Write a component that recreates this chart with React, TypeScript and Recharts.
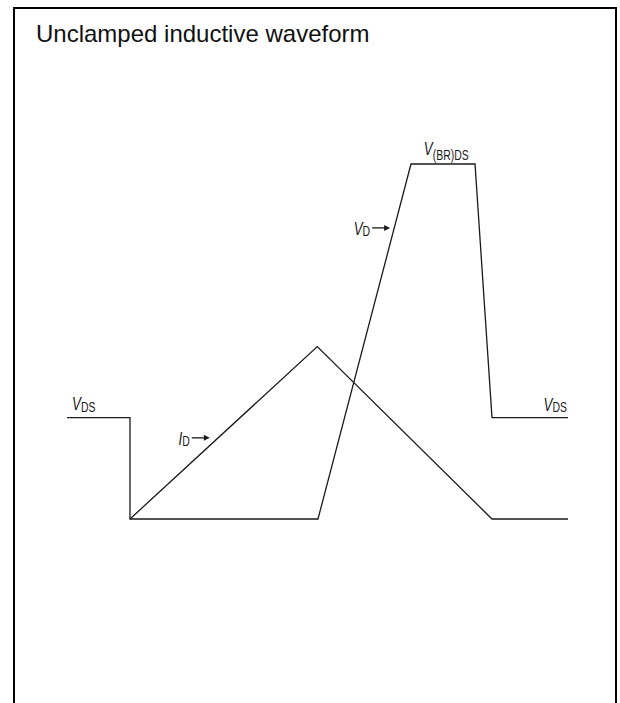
import React from "react";
import { LineChart, Line, XAxis, YAxis, ReferenceDot } from "recharts";

// time in arbitrary units (0..100), amplitude normalised so that V_DS = 1
const vdTime = [0, 12.57, 12.57, 50.1, 68.66, 81.44, 84.83, 100];
const vdValue = [1, 1, 0, 0, 3.5, 3.5, 1, 1];
const idTime = [12.57, 49.96, 84.83, 100];
const idValue = [0, 1.7, 0, 0];

// waveform annotations
const annMain = ["V", "V", "V", "I", "V"];
const annSub = ["DS", "DS", "(BR)DS", "D", "D"];
const annTime = [0, 100, 75.5, 28.5, 64.5];
const annValue = [1, 1, 3.5, 0.8, 2.87];

const vdData = vdTime.map((t, i) => ({ t, v: vdValue[i] }));
const idData = idTime.map((t, i) => ({ t, v: idValue[i] }));

const INK = "#1a1a1a";
const LABEL_FONT = "'Liberation Sans', Arial, sans-serif";

const placement = [
  { anchor: "start", dx: 5, dy: -8, subDy: 2, arrow: false },
  { anchor: "end", dx: -1, dy: -7, subDy: 1, arrow: false },
  { anchor: "middle", dx: 1, dy: -9, subDy: 5, arrow: false },
  { anchor: "end", dx: -20, dy: 7, subDy: 1, arrow: true },
  { anchor: "end", dx: -20, dy: 7, subDy: 1, arrow: true },
];

const renderAnnot = (i: number) => (props: any) => {
  const vb = props.viewBox || {};
  const x = (vb.x ?? props.x ?? 0) + (vb.width ?? 0) / 2;
  const y = (vb.y ?? props.y ?? 0) + (vb.height ?? 0) / 2;
  const p = placement[i];
  return (
    <g>
      {/* condensed look: squeeze the text horizontally */}
      <g transform={`translate(${x + p.dx},${y + p.dy}) scale(0.72,1)`}>
        <text x={0} y={0} textAnchor={p.anchor as any} fontFamily={LABEL_FONT} fill={INK}>
          <tspan fontSize={18.5} fontStyle="italic">{annMain[i]}</tspan>
          <tspan fontSize={14.5} dy={p.subDy}>{annSub[i]}</tspan>
        </text>
      </g>
      {p.arrow && (
        <g>
          <line x1={x - 18} y1={y} x2={x - 5} y2={y} stroke={INK} strokeWidth={1.3} />
          <path d={`M${x},${y} L${x - 6},${y - 3} L${x - 6},${y + 3} Z`} fill={INK} />
        </g>
      )}
    </g>
  );
};

export default function App() {
  return (
    <div
      style={{
        position: "absolute",
        left: 0,
        top: 0,
        width: 620,
        height: 703,
        overflow: "hidden",
        background: "#fff",
      }}
    >
      <div
        style={{
          position: "absolute",
          left: 13,
          top: 7,
          width: 604,
          height: 696,
          boxSizing: "border-box",
          border: "2px solid #000",
          borderBottom: "none",
        }}
      />
      <div
        style={{
          position: "absolute",
          left: 36,
          top: 20,
          fontFamily: "'Liberation Sans', Arial, sans-serif",
          fontSize: 24,
          color: "#111",
          whiteSpace: "nowrap",
        }}
      >
        Unclamped inductive waveform
      </div>
      <div style={{ position: "absolute", left: 0, top: 0 }}>
        <LineChart
          width={620}
          height={703}
          margin={{ top: 164, right: 52, bottom: 184, left: 67 }}
        >
          <XAxis dataKey="t" type="number" domain={[0, 100]} hide />
          <YAxis type="number" domain={[0, 3.5]} hide />
          <Line
            data={vdData}
            dataKey="v"
            type="linear"
            stroke={INK}
            strokeWidth={1.3}
            dot={false}
            activeDot={false}
            isAnimationActive={false}
          />
          <Line
            data={idData}
            dataKey="v"
            type="linear"
            stroke={INK}
            strokeWidth={1.3}
            dot={false}
            activeDot={false}
            isAnimationActive={false}
          />
          {annMain.map((_, i) => (
            <ReferenceDot
              key={i}
              x={annTime[i]}
              y={annValue[i]}
              r={0}
              fill="none"
              stroke="none"
              ifOverflow="visible"
              label={renderAnnot(i)}
            />
          ))}
        </LineChart>
      </div>
    </div>
  );
}
